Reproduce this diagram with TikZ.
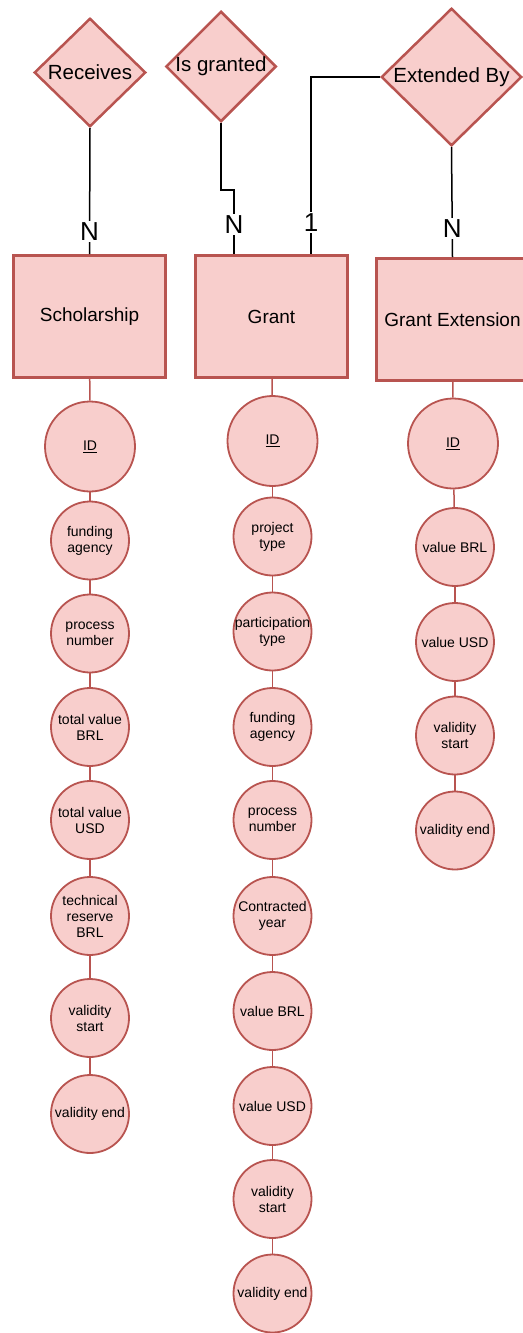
\documentclass[tikz,border=0pt]{standalone}
\usepackage{fontspec}
\setmainfont{Liberation Sans}
\usetikzlibrary{calc,shapes.geometric}
\definecolor{erfill}{HTML}{F8CECC}
\definecolor{erred}{HTML}{B85450}

\begin{document}
\begin{tikzpicture}[x=1pt, y=-1pt,
  entity/.style={rectangle, draw=erred, fill=erfill, line width=3pt,
    minimum width=152pt, minimum height=122pt, inner sep=0pt,
    font=\fontsize{19}{22}\selectfont},
  relation/.style={diamond, draw=erred, fill=erfill, line width=2.5pt,
    inner sep=0pt, font=\fontsize{20.5}{24}\selectfont},
  attr/.style={circle, draw=erred, fill=erfill, line width=1.8pt,
    minimum size=78pt, inner sep=-4pt, align=center,
    font=\fontsize{14}{16}\selectfont},
  key/.style={attr, minimum size=90pt},
  link/.style={erred, line width=1.5pt},
  rel/.style={black, line width=1.5pt},
  card/.style={fill=white, inner sep=1.5pt, font=\fontsize{26}{28}\selectfont}]
  \useasboundingbox (0,0) rectangle (522,1333);

  % relationships
  \node[relation, minimum width=111.5pt, minimum height=108.5pt] (rcv) at (90,72.5) {Receives};
  \node[relation, minimum width=110.5pt, minimum height=110.5pt] (isg) at (221,66.5) {Is granted};
  \node[relation, minimum width=140.5pt, minimum height=137.5pt] (ext) at (451.5,77) {Extended By};

  % entities
  \node[entity] (sch) at (89.5,316.5) {Scholarship};
  \node[entity] (grt) at (271.5,316.5) {Grant};
  \node[entity] (gex) at (452.5,319.5) {Grant Extension};

  % relationship lines with cardinalities
  \draw[rel] (rcv.south) -- node[card, pos=0.82] (cs) {N} (sch.north);
  \draw[rel] (isg.south) -- ++(0,67) -| node[card, pos=0.77] (cg) {N}
    ($(grt.north west)+(40,0)$);
  \draw[rel] (ext.west) -| node[card, pos=0.91] (co) {1}
    ($(grt.north west)+(117,0)$);
  \draw[rel] (ext.south) -- node[card, pos=0.74] (ce) {N} (gex.north);

  % Scholarship attributes
  \node[key] (s1) at (90,446.5) {\underline{ID}};
  \foreach \y/\t [count=\i from 2] in {540.5/{funding\\agency},
      633.5/{process\\number}, 727/{total value\\BRL}, 820/{total value\\USD},
      916/{technical\\reserve\\BRL}, 1018/{validity\\start}, 1114/{validity end}}
    \node[attr] (s\i) at (90,\y) {\t};
  \draw[link] (sch) -- (s1);
  \foreach \i [count=\j from 2] in {1,...,7}
    \draw[link] (s\i) -- (s\j);

  % Grant attributes
  \node[key] (g1) at (272.5,441) {\underline{ID}};
  \foreach \y/\t [count=\i from 2] in {536.5/{project\\type},
      631.5/{participation\\type}, 727/{funding\\agency}, 820/{process\\number},
      916/{Contracted\\year}, 1011/{value BRL}, 1106/{value USD},
      1199/{validity\\start}, 1293.5/{validity end}}
    \node[attr] (g\i) at (272.5,\y) {\t};
  \draw[link] (grt) -- (g1);
  \foreach \i [count=\j from 2] in {1,...,9}
    \draw[link] (g\i) -- (g\j);

  % Grant Extension attributes
  \node[key] (e1) at (453,443.5) {\underline{ID}};
  \foreach \y/\t [count=\i from 2] in {547/{value BRL}, 642/{value USD},
      735.5/{validity\\start}, 830.5/{validity end}}
    \node[attr] (e\i) at (455,\y) {\t};
  \draw[link] (gex) -- (e1);
  \foreach \i [count=\j from 2] in {1,...,4}
    \draw[link] (e\i) -- (e\j);
\end{tikzpicture}
\end{document}
